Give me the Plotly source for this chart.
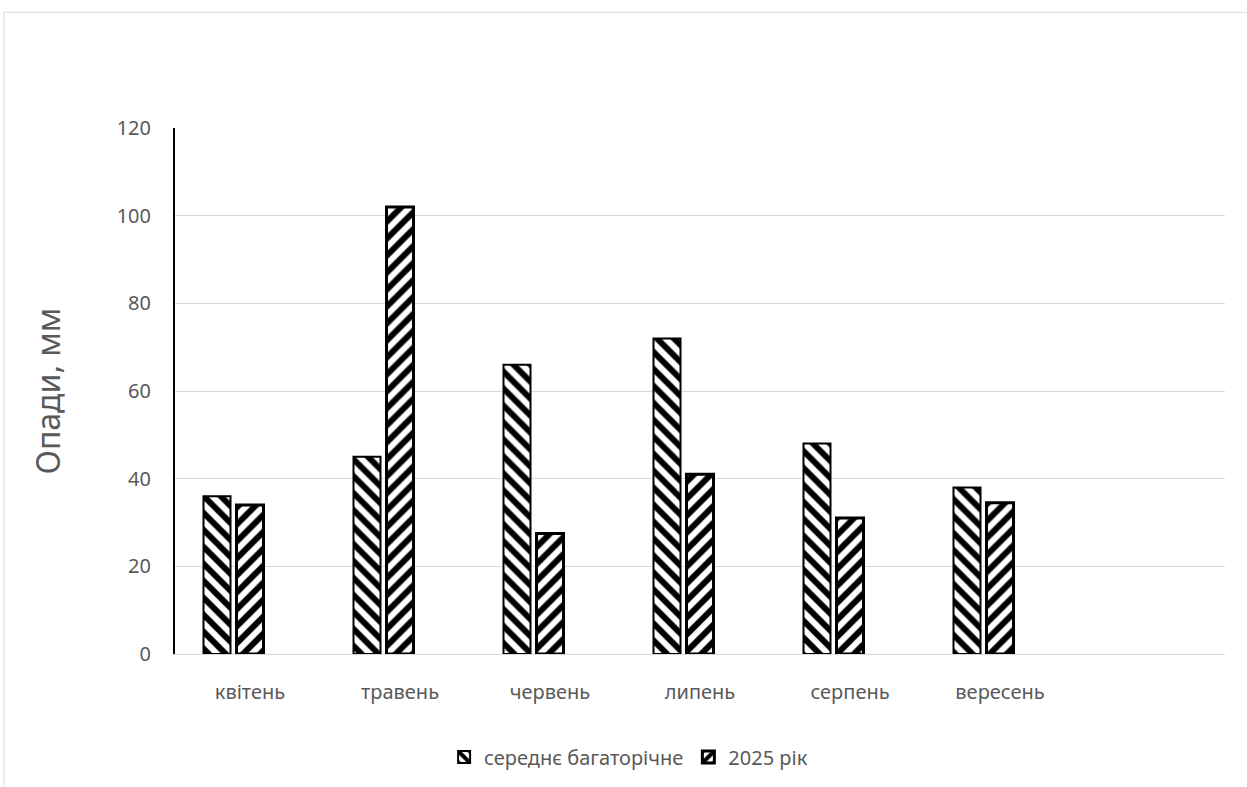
import plotly.graph_objects as go

months = ["квітень", "травень", "червень", "липень", "серпень", "вересень"]
avg_values = [36, 45, 66, 72, 48, 38]
y2025_values = [34, 102, 27.5, 41, 31, 34.5]
series_names = ["середнє багаторічне", "2025 рік"]
y_ticks = [0, 20, 40, 60, 80, 100, 120]

x_pos = list(range(len(months)))
font = "Noto Sans, Open Sans, sans-serif"
gray = "#595959"

fig = go.Figure()
fig.add_trace(go.Bar(
    x=x_pos, y=avg_values, name=series_names[0],
    width=0.18, offset=-0.31,
    marker=dict(color="white", line=dict(color="black", width=2),
                pattern=dict(shape="\\", fgcolor="black", bgcolor="white", fgopacity=1,
                             size=12, solidity=0.5, fillmode="overlay")),
))
fig.add_trace(go.Bar(
    x=x_pos, y=y2025_values, name=series_names[1],
    width=0.18, offset=-0.09,
    marker=dict(color="white", line=dict(color="black", width=3),
                pattern=dict(shape="/", fgcolor="black", bgcolor="white", fgopacity=1,
                             size=12, solidity=0.5, fillmode="overlay")),
))

fig.update_layout(
    width=1247, height=787,
    margin=dict(l=175, r=22, t=128, b=132),
    paper_bgcolor="white", plot_bgcolor="white",
    barmode="overlay",
    font=dict(family=font, size=20, color=gray),
    showlegend=True,
    legend=dict(orientation="h", x=0.432, xanchor="center", y=-0.1935, yanchor="middle",
                font=dict(size=20, color=gray), itemwidth=30, traceorder="normal"),
    xaxis=dict(range=[-0.5, 6.5], tickvals=x_pos, ticktext=months,
               showgrid=False, zeroline=False, showline=True, linecolor="#d9d9d9", linewidth=1,
               ticks="", ticklabelstandoff=20, tickfont=dict(size=20, color=gray)),
    yaxis=dict(range=[0, 120], tickvals=y_ticks, showgrid=True, gridcolor="#d9d9d9", gridwidth=1,
               zeroline=False, showline=True, linecolor="black", linewidth=2,
               ticks="", ticklabelstandoff=18, tickfont=dict(size=20, color=gray),
               title=dict(text="Опади, мм", font=dict(size=32, color=gray), standoff=46)),
    shapes=[dict(type="rect", xref="paper", yref="paper",
                 x0=-0.1629, y0=-0.5, x1=1.2, y1=1.2201,
                 line=dict(color="#d9d9d9", width=1), fillcolor="rgba(0,0,0,0)", layer="below")],
)

fig.write_html("out.html")
